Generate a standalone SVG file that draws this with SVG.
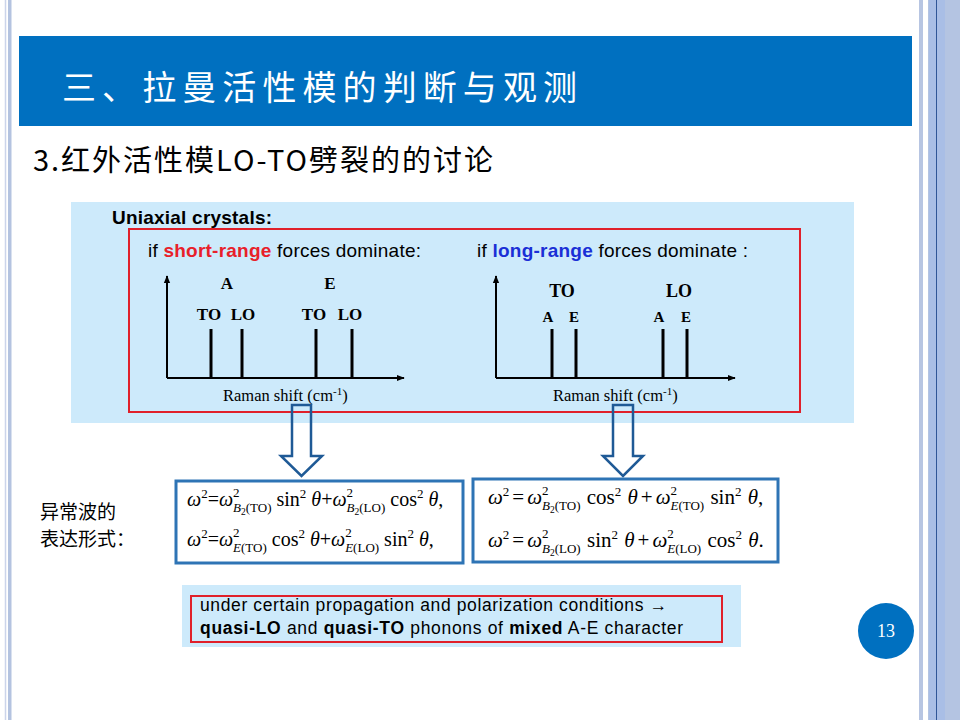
<svg xmlns="http://www.w3.org/2000/svg" width="960" height="720" viewBox="0 0 960 720">
<defs>
<style>
.cjk{font-family:"Noto Sans CJK SC","Noto Sans",sans-serif}
.sans{font-family:"Liberation Sans",Arial,sans-serif}
.tm{font-family:"Liberation Serif","Times New Roman",serif}
.lbl{font-family:"Liberation Serif","Times New Roman",serif;font-weight:bold;text-anchor:middle}
.f{font-family:"Liberation Serif","Times New Roman",serif;font-size:20px;fill:#000}
.fr{font-size:21px}
.i{font-style:italic}
.s{font-size:13px}
.ss{font-size:9.5px}
.bar{stroke:#000;stroke-width:3}
.axis{stroke:#000;stroke-width:2;fill:none}
.fbox{fill:#fff;stroke:#2e74b5;stroke-width:3}
.darr{fill:none;stroke:#1f5a96;stroke-width:2.5;stroke-linejoin:miter}
</style>
<marker id="ah" viewBox="0 0 10 10" refX="9" refY="5" markerWidth="4" markerHeight="4" orient="auto">
<path d="M0,1 L10,5 L0,9 Z" fill="#000"/>
</marker>
</defs>
<rect width="960" height="720" fill="#fff"/>

<g id="decor">
<line x1="5.5" y1="0" x2="5.5" y2="720" stroke="#cbd4ea" stroke-width="1.5"/>
<rect x="8" y="0" width="3.5" height="720" fill="#b4c3e0"/>
<rect x="919" y="0" width="4" height="720" fill="#b7c5e2"/>
<rect x="928" y="0" width="32" height="720" fill="#b4c4e2"/>
<rect x="929" y="0" width="16" height="720" fill="#a9bee6"/>
<line x1="936.5" y1="0" x2="936.5" y2="720" stroke="#2f5597" stroke-width="1"/>
</g>

<g id="title">
<rect x="19" y="36" width="893" height="90" fill="#0070c0"/>
<text class="cjk" x="62" y="100" font-size="34" fill="#fff" textLength="515" lengthAdjust="spacing">三、拉曼活性模的判断与观测</text>
</g>

<g id="subtitle">
<text class="cjk" x="33" y="171" font-size="29" fill="#000" textLength="460" lengthAdjust="spacing">3.红外活性模LO-TO劈裂的的讨论</text>
</g>

<g id="panel-top">
<rect x="71" y="202" width="783" height="221" fill="#cdeafb"/>
<text class="sans" x="112" y="224" font-size="19" font-weight="bold" textLength="160" lengthAdjust="spacing">Uniaxial crystals:</text>
<rect x="129" y="229" width="671" height="183" fill="none" stroke="#e0202a" stroke-width="2"/>
</g>

<g id="chart-short">
<text class="sans" x="148" y="257" font-size="19" textLength="273" lengthAdjust="spacing">if <tspan font-weight="bold" fill="#e8202a">short-range</tspan> forces dominate:</text>
<line class="axis" x1="167" y1="378" x2="167" y2="276" marker-end="url(#ah)"/>
<line class="axis" x1="167" y1="378" x2="404" y2="378" marker-end="url(#ah)"/>
<line class="bar" x1="211" y1="329" x2="211" y2="378"/>
<line class="bar" x1="242" y1="329" x2="242" y2="378"/>
<line class="bar" x1="316" y1="329" x2="316" y2="378"/>
<line class="bar" x1="352" y1="329" x2="352" y2="378"/>
<text class="lbl" x="227" y="289" font-size="17">A</text>
<text class="lbl" x="330" y="289" font-size="17">E</text>
<text class="lbl" x="209" y="320" font-size="17">TO</text>
<text class="lbl" x="243" y="320" font-size="17">LO</text>
<text class="lbl" x="314" y="320" font-size="17">TO</text>
<text class="lbl" x="350" y="320" font-size="17">LO</text>
<text class="tm" x="223" y="401" font-size="16.5">Raman shift (cm<tspan font-size="11" dy="-6">-1</tspan><tspan dy="6">)</tspan></text>
</g>

<g id="chart-long">
<text class="sans" x="477" y="257" font-size="19" textLength="271" lengthAdjust="spacing">if <tspan font-weight="bold" fill="#1a2fd6">long-range</tspan> forces dominate :</text>
<line class="axis" x1="496" y1="378" x2="496" y2="276" marker-end="url(#ah)"/>
<line class="axis" x1="496" y1="378" x2="735" y2="378" marker-end="url(#ah)"/>
<line class="bar" x1="552" y1="329" x2="552" y2="378"/>
<line class="bar" x1="576" y1="329" x2="576" y2="378"/>
<line class="bar" x1="663" y1="329" x2="663" y2="378"/>
<line class="bar" x1="687" y1="329" x2="687" y2="378"/>
<text class="lbl" x="562" y="297" font-size="18">TO</text>
<text class="lbl" x="679" y="297" font-size="18">LO</text>
<text class="lbl" x="548" y="322" font-size="15">A</text>
<text class="lbl" x="574" y="322" font-size="15">E</text>
<text class="lbl" x="659" y="322" font-size="15">A</text>
<text class="lbl" x="686" y="322" font-size="15">E</text>
<text class="tm" x="553" y="401" font-size="16.5">Raman shift (cm<tspan font-size="11" dy="-6">-1</tspan><tspan dy="6">)</tspan></text>
</g>

<g id="connectors">
<path class="darr" d="M292,405 L311,405 L311,456 L322,456 L301.5,476 L281,456 L292,456 Z"/>
<path class="darr" d="M613,405 L633,405 L633,456 L643,456 L623,476 L603,456 L613,456 Z"/>
</g>

<g id="label-cn">
<text class="cjk" x="40" y="519" font-size="19">异常波的</text>
<text class="cjk" x="40" y="546" font-size="19">表达形式：</text>
</g>

<g id="formula-left">
<rect class="fbox" x="176" y="481" width="287" height="82"/>
<text class="f" x="187" y="506"><tspan class="i">ω</tspan><tspan class="s" dy="-8">2</tspan><tspan dy="8">=</tspan><tspan class="i">ω</tspan><tspan class="s" dy="-9">2</tspan><tspan class="s i" dx="-6.5" dy="15">B</tspan><tspan class="ss" dy="3">2</tspan><tspan class="s" dy="-3">(TO)</tspan><tspan dy="-6"> sin</tspan><tspan class="s" dy="-8">2</tspan><tspan class="i" dy="8"> θ</tspan><tspan>+</tspan><tspan class="i">ω</tspan><tspan class="s" dy="-9">2</tspan><tspan class="s i" dx="-6.5" dy="15">B</tspan><tspan class="ss" dy="3">2</tspan><tspan class="s" dy="-3">(LO)</tspan><tspan dy="-6"> cos</tspan><tspan class="s" dy="-8">2</tspan><tspan class="i" dy="8"> θ</tspan><tspan>,</tspan></text>
<text class="f" x="187" y="546"><tspan class="i">ω</tspan><tspan class="s" dy="-8">2</tspan><tspan dy="8">=</tspan><tspan class="i">ω</tspan><tspan class="s" dy="-9">2</tspan><tspan class="s i" dx="-6.5" dy="15">E</tspan><tspan class="s">(TO)</tspan><tspan dy="-6"> cos</tspan><tspan class="s" dy="-8">2</tspan><tspan class="i" dy="8"> θ</tspan><tspan>+</tspan><tspan class="i">ω</tspan><tspan class="s" dy="-9">2</tspan><tspan class="s i" dx="-6.5" dy="15">E</tspan><tspan class="s">(LO)</tspan><tspan dy="-6"> sin</tspan><tspan class="s" dy="-8">2</tspan><tspan class="i" dy="8"> θ</tspan><tspan>,</tspan></text>
</g>

<g id="formula-right">
<rect class="fbox" x="473" y="479" width="305" height="83"/>
<text class="f fr" x="488" y="504"><tspan class="i">ω</tspan><tspan class="s" dy="-8">2</tspan><tspan dy="8" dx="3">=</tspan><tspan class="i" dx="3">ω</tspan><tspan class="s" dy="-9">2</tspan><tspan class="s i" dx="-6.5" dy="15">B</tspan><tspan class="ss" dy="3">2</tspan><tspan class="s" dy="-3">(TO)</tspan><tspan dy="-6" dx="1"> cos</tspan><tspan class="s" dy="-8">2</tspan><tspan class="i" dy="8" dx="1"> θ</tspan><tspan dx="3">+</tspan><tspan class="i" dx="3">ω</tspan><tspan class="s" dy="-9">2</tspan><tspan class="s i" dx="-6.5" dy="15">E</tspan><tspan class="s">(TO)</tspan><tspan dy="-6" dx="1"> sin</tspan><tspan class="s" dy="-8">2</tspan><tspan class="i" dy="8" dx="1"> θ</tspan><tspan>,</tspan></text>
<text class="f fr" x="488" y="547"><tspan class="i">ω</tspan><tspan class="s" dy="-8">2</tspan><tspan dy="8" dx="3">=</tspan><tspan class="i" dx="3">ω</tspan><tspan class="s" dy="-9">2</tspan><tspan class="s i" dx="-6.5" dy="15">B</tspan><tspan class="ss" dy="3">2</tspan><tspan class="s" dy="-3">(LO)</tspan><tspan dy="-6" dx="1"> sin</tspan><tspan class="s" dy="-8">2</tspan><tspan class="i" dy="8" dx="1"> θ</tspan><tspan dx="3">+</tspan><tspan class="i" dx="3">ω</tspan><tspan class="s" dy="-9">2</tspan><tspan class="s i" dx="-6.5" dy="15">E</tspan><tspan class="s">(LO)</tspan><tspan dy="-6" dx="1"> cos</tspan><tspan class="s" dy="-8">2</tspan><tspan class="i" dy="8" dx="1"> θ</tspan><tspan>.</tspan></text>
</g>

<g id="panel-bottom">
<rect x="182" y="585" width="559" height="62" fill="#cdeafb"/>
<rect x="191" y="596" width="531" height="46" fill="none" stroke="#e0202a" stroke-width="2"/>
<text class="sans" x="200" y="611" font-size="17.5" textLength="467" lengthAdjust="spacing">under certain propagation and polarization conditions →</text>
<text class="sans" x="200" y="634" font-size="17.5" textLength="483" lengthAdjust="spacing"><tspan font-weight="bold">quasi-LO</tspan> and <tspan font-weight="bold">quasi-TO</tspan> phonons of <tspan font-weight="bold">mixed</tspan> A-E character</text>
</g>

<g id="page-number">
<circle cx="886" cy="631" r="28" fill="#0070c0"/>
<text class="tm" x="886" y="637" font-size="18" fill="#fff" text-anchor="middle">13</text>
</g>
</svg>
